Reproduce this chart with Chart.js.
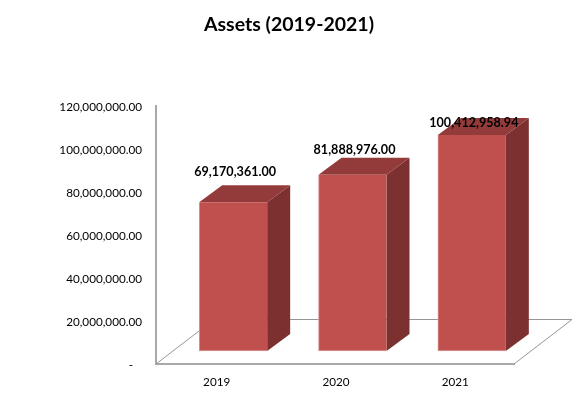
<!DOCTYPE html>
<html>
<head>
<meta charset="utf-8">
<style>html,body{margin:0;padding:0;background:#fff}#w{width:578px;height:393px;position:relative}</style>
<script src="https://cdn.jsdelivr.net/npm/chart.js@4"></script>
</head>
<body>
<div id="w"><canvas id="c"></canvas></div>
<script>
const chartTitle = 'Assets (2019-2021)';
const categories = ['2019', '2020', '2021'];
const assets = [69170361.00, 81888976.00, 100412958.94];
const dataLabels = ['69,170,361.00', '81,888,976.00', '100,412,958.94'];
const yTickValues = [0, 20000000, 40000000, 60000000, 80000000, 100000000, 120000000];
const yTickLabels = ['-   ', '20,000,000.00', '40,000,000.00', '60,000,000.00', '80,000,000.00', '100,000,000.00', '120,000,000.00'];

const FONT = 'Lato, Carlito, sans-serif';
const depthX = 23, depthY = 17, floorX = 58, floorY = 44.5, shiftX = 17.5, shiftY = -13;
const labelRise = [30.5, 24.5, 12.5];

const box3d = {
  id: 'box3d',
  beforeDatasetsDraw(chart) {
    const {ctx, chartArea: a} = chart;
    ctx.save();
    ctx.strokeStyle = '#969696';
    ctx.lineWidth = 1;
    ctx.beginPath();
    ctx.moveTo(a.left, a.bottom);
    ctx.lineTo(a.left + floorX, a.bottom - floorY);
    ctx.lineTo(a.right + floorX, a.bottom - floorY);
    ctx.lineTo(a.right, a.bottom);
    ctx.stroke();
    ctx.restore();
  },
  beforeDatasetDraw(chart, args) {
    const ctx = chart.ctx;
    ctx.save();
    ctx.translate(shiftX, shiftY);
    for (const el of args.meta.data) {
      const l = el.x - el.width / 2, r = el.x + el.width / 2, t = el.y, b = el.base;
      ctx.fillStyle = '#7c302f';
      ctx.beginPath();
      ctx.moveTo(r, t); ctx.lineTo(r + depthX, t - depthY);
      ctx.lineTo(r + depthX, b - depthY); ctx.lineTo(r, b);
      ctx.closePath(); ctx.fill();
      ctx.fillStyle = '#933b3a';
      ctx.beginPath();
      ctx.moveTo(l, t); ctx.lineTo(l + depthX, t - depthY);
      ctx.lineTo(r + depthX, t - depthY); ctx.lineTo(r, t);
      ctx.closePath(); ctx.fill();
    }
  },
  afterDatasetDraw(chart) {
    chart.ctx.restore();
  },
  afterDatasetsDraw(chart) {
    const ctx = chart.ctx;
    const els = chart.getDatasetMeta(0).data;
    ctx.save();
    ctx.font = 'bold 12.6px ' + FONT;
    ctx.fillStyle = '#000';
    ctx.textAlign = 'center';
    ctx.textBaseline = 'middle';
    els.forEach((el, i) => {
      ctx.fillText(dataLabels[i], el.x + shiftX + 2, el.y + shiftY - labelRise[i]);
    });
    ctx.restore();
  }
};

new Chart(document.getElementById('c'), {
  type: 'bar',
  data: {
    labels: categories,
    datasets: [{
      data: assets,
      backgroundColor: '#c0504d',
      borderColor: '#dd9a98',
      borderWidth: {left: 1, bottom: 1, top: 0, right: 0},
      borderSkipped: false,
      barThickness: 68,
      clip: false
    }]
  },
  plugins: [box3d],
  options: {
    responsive: true,
    maintainAspectRatio: false,
    animation: false,
    layout: {padding: 0, autoPadding: false},
    plugins: {
      legend: {display: false},
      tooltip: {enabled: false},
      title: {
        display: true,
        text: chartTitle,
        color: '#000',
        font: {family: FONT, size: 19.5, weight: 'bold'},
        padding: {top: 13, bottom: 69.5}
      }
    },
    scales: {
      x: {
        grid: {display: false},
        border: {display: true, color: '#a8a8a8', width: 2},
        ticks: {color: '#000', font: {family: FONT, size: 11.7}, padding: 3, labelOffset: 1, maxRotation: 0},
        afterFit(s) { s.height = 29; }
      },
      y: {
        min: 0,
        max: 120000000,
        afterBuildTicks(s) { s.ticks = yTickValues.map(v => ({value: v})); },
        grid: {display: false},
        border: {display: true, color: '#a8a8a8', width: 2},
        ticks: {
          color: '#000',
          font: {family: FONT, size: 11.7},
          padding: 6,
          labelOffset: 1,
          callback(v) { return yTickLabels[yTickValues.indexOf(v)]; }
        },
        afterFit(s) { s.width = 156; }
      },
      rightGutter: {
        type: 'linear',
        position: 'right',
        grid: {display: false},
        border: {display: false},
        ticks: {display: false},
        afterFit(s) { s.width = 64; }
      }
    }
  }
});
</script>
</body>
</html>
